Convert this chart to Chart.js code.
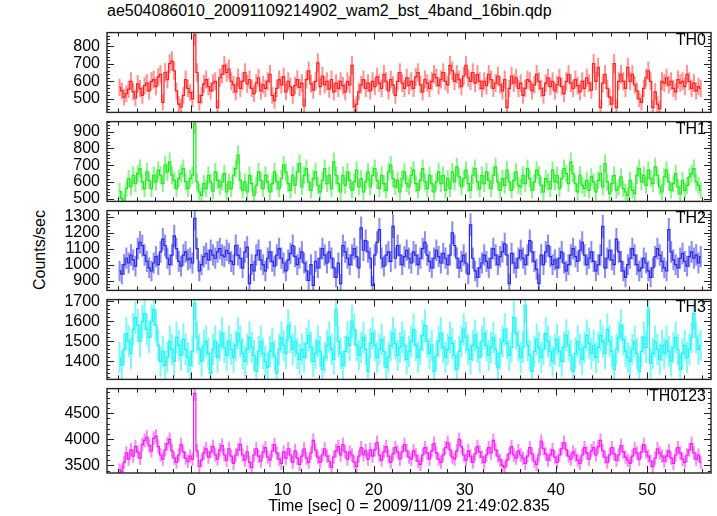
<!DOCTYPE html>
<html>
<head>
<meta charset="utf-8">
<script src="https://cdn.jsdelivr.net/npm/chart.js@4.4.1/dist/chart.umd.min.js"></script>
<style>
body{margin:0;background:#fff;}
#wrap{position:relative;width:717px;height:516px;overflow:hidden;background:#fff;font-family:"Liberation Sans",Arial,sans-serif;color:#000;}
#wrap canvas{position:absolute;left:0;}
.title{position:absolute;left:107px;top:2px;font-size:16px;line-height:18px;white-space:nowrap;}
.ylab{position:absolute;left:40px;top:250px;display:inline-block;font-size:16px;line-height:18px;white-space:nowrap;transform:translate(-50%,-50%) rotate(-90deg);}
.plab{position:absolute;right:11px;font-size:16px;line-height:18px;}
</style>
</head>
<body>
<div id="wrap">
  <div class="title">ae504086010_20091109214902_wam2_bst_4band_16bin.qdp</div>
  <div class="ylab">Counts/sec</div>
</div>
<script>
// light curves, 0.25 s bins starting at t=-8 s (counts/sec)
const binStart = -7.875, binWidth = 0.25;

const th0 = [
  565,545,510,530,555,600,540,505,585,560,520,575,590,545,600,610,
  570,625,640,480,650,610,700,715,660,545,470,455,520,610,560,535,
  500,865,650,480,520,585,610,570,545,590,600,450,620,640,690,650,
  670,600,580,540,620,560,600,650,585,610,560,530,590,620,545,580,
  560,600,640,520,490,560,610,580,625,540,600,570,520,575,610,565,
  590,460,610,660,585,550,600,705,570,630,580,600,555,610,540,590,
  560,600,575,540,600,580,690,455,470,540,580,610,560,590,545,600,
  570,625,590,560,640,600,545,610,580,520,600,650,590,560,620,575,
  600,560,625,650,580,540,610,590,560,600,640,620,575,610,650,600,
  580,690,660,600,640,610,570,630,690,620,600,650,590,640,600,560,
  600,575,640,610,560,590,630,580,545,610,450,560,630,590,620,560,
  590,520,560,610,600,545,580,640,600,560,520,590,620,570,600,545,
  580,620,570,530,600,640,590,560,610,575,540,600,560,620,590,550,
  700,600,680,450,590,640,560,510,470,700,450,600,640,600,560,680,
  600,640,580,545,500,480,560,620,660,600,450,540,470,445,600,590,
  620,580,600,560,540,610,590,600,570,640,600,560,590,545,570,560
];
const th1 = [
  545,500,480,560,620,570,640,590,650,680,600,560,660,610,560,640,
  600,670,640,590,700,660,720,640,610,560,620,650,680,600,560,620,
  640,950,600,540,520,590,560,640,600,545,660,610,570,600,650,540,
  600,560,640,680,760,610,550,600,540,640,590,520,580,660,610,560,
  640,600,540,590,660,600,560,620,700,660,590,550,640,580,660,710,
  570,640,680,600,550,620,660,580,540,610,680,590,640,560,720,640,
  590,540,640,580,660,610,550,600,670,570,620,540,600,660,570,640,
  680,610,560,640,590,550,660,700,620,570,610,540,620,660,590,570,
  640,670,590,550,610,680,600,560,640,590,540,600,660,590,640,550,
  620,560,660,600,690,630,570,620,670,590,550,640,680,600,560,640,
  590,660,610,560,640,690,600,550,620,580,670,600,550,610,660,580,
  570,640,590,680,620,550,600,670,640,580,540,620,600,560,670,600,
  640,560,620,680,650,590,720,650,590,540,640,580,560,610,550,630,
  600,540,610,650,570,710,600,530,590,640,550,570,630,560,540,520,
  610,550,530,640,680,600,640,580,670,620,590,690,640,570,540,630,
  670,600,550,590,650,570,530,610,550,580,630,650,680,600,580,550
];
const th2 = [
  960,940,1000,1040,1010,1060,1030,990,1100,1140,1120,1060,1020,980,960,1010,
  1050,1000,1080,1160,1120,1040,1000,1060,1180,1100,1020,990,1060,1080,1030,1040,
  1010,1290,1100,960,1000,1050,1070,1030,1090,1060,1040,1080,1100,1060,1050,1090,
  1070,1020,1000,1120,1060,1040,980,1080,1110,880,1000,960,1060,1090,1030,1000,
  960,1040,1080,1020,990,1060,1100,1040,1010,960,1030,1070,1120,1050,1000,1040,
  1080,1010,960,900,1000,870,1020,980,1040,1100,1060,1010,1080,1040,980,920,
  1010,880,1120,1080,1040,1000,1060,1100,1050,980,1230,1090,1150,1080,1040,870,
  1060,1140,1220,1040,990,1060,1080,1020,1240,1040,1120,1060,1000,1050,1090,1040,
  1010,1080,1060,1000,1040,1100,1140,1060,1020,980,1040,1090,1050,1010,1070,1040,
  1000,1060,1200,1120,1040,980,1020,1060,1010,940,1250,1040,960,920,980,1010,
  1060,1020,980,1040,1100,1060,1000,1050,1080,1130,1060,880,1070,1010,980,1040,
  1090,1040,1000,1060,1150,1080,1020,970,880,1060,1000,1080,1120,1050,1000,1030,
  980,1040,1080,1010,960,1000,1060,1100,1050,1020,1090,1140,1060,1000,1040,1080,
  1020,960,1000,1060,1240,980,1040,1090,1030,1000,1160,1080,1020,960,920,1000,
  1040,1100,1060,1000,960,980,1040,1010,960,920,980,1050,1100,1060,1020,980,
  960,1220,1080,1030,1000,980,1040,1070,1020,990,1050,1080,1040,1060,1010,1050
];
const th3 = [
  1420,1380,1460,1540,1500,1440,1560,1620,1580,1500,1600,1640,1560,1520,1600,1660,
  1580,1480,1400,1450,1380,1420,1500,1460,1400,1520,1480,1430,1510,1460,1420,1380,
  1450,1690,1520,1460,1400,1480,1500,1440,1340,1460,1500,1420,1480,1540,1470,1430,
  1500,1460,1420,1480,1540,1500,1440,1400,1460,1520,1470,1430,1350,1450,1500,1440,
  1400,1370,1450,1490,1430,1340,1460,1520,1480,1440,1580,1520,1460,1500,1440,1410,
  1460,1420,1490,1530,1470,1400,1440,1500,1450,1360,1420,1480,1520,1460,1410,1660,
  1500,1440,1380,1450,1520,1480,1600,1560,1480,1430,1470,1520,1460,1350,1490,1540,
  1480,1420,1460,1510,1450,1370,1420,1480,1540,1490,1430,1470,1520,1480,1410,1450,
  1500,1560,1480,1420,1460,1530,1580,1500,1440,1480,1350,1430,1500,1540,1470,1420,
  1460,1520,1490,1430,1360,1450,1500,1560,1520,1460,1410,1480,1530,1470,1420,1500,
  1540,1480,1430,1470,1520,1460,1370,1440,1500,1560,1490,1430,1470,1620,1540,1480,
  1420,1470,1680,1480,1430,1350,1450,1510,1470,1420,1460,1540,1500,1450,1400,1460,
  1510,1450,1400,1470,1530,1480,1430,1350,1440,1500,1460,1410,1470,1530,1490,1440,
  1480,1420,1470,1530,1500,1440,1560,1500,1450,1360,1460,1520,1580,1510,1450,1420,
  1400,1460,1500,1440,1350,1450,1520,1470,1660,1390,1440,1500,1460,1410,1480,1440,
  1500,1450,1400,1470,1520,1460,1360,1440,1480,1420,1460,1520,1640,1520,1460,1480
];
const th0123 = [
  3420,3380,3560,3740,3620,3800,3680,3860,3760,3640,3900,3980,4040,3880,3780,4020,
  4060,3860,3700,3620,3800,3920,4000,3780,3640,3560,3700,3900,3760,3640,3580,3680,
  3620,4880,3780,3480,3600,3740,3820,3660,3760,3860,3700,3620,3800,3880,3700,3600,
  3820,3680,3540,3700,3800,3900,3700,3600,3760,3560,3460,3700,3820,3680,3580,3760,
  3840,3660,3600,3780,3900,3740,3620,3540,3760,3640,3820,3700,3560,3780,3640,3520,
  3680,3820,3640,3560,3740,3980,3800,3660,3560,3700,3820,3680,3580,3460,3660,3780,
  3860,3700,3900,3760,3620,3760,3700,3560,3480,3680,3840,3700,3780,3620,3800,3680,
  3800,3940,3700,3600,3760,3860,3680,3560,3720,3840,3760,3620,3760,3900,3780,3660,
  3620,3780,3700,3580,3520,3700,3840,3740,3620,3780,3920,3740,3620,3560,3700,3840,
  3940,3800,3660,3620,3780,4000,3860,3700,3600,3780,3680,3560,3720,3860,3760,3660,
  3560,3700,3840,3740,3980,3800,3680,3600,3500,3460,3600,3720,3860,3700,3640,3780,
  3700,3640,3540,3680,3840,3720,3580,3520,3700,3960,3820,3720,3600,3700,3800,3660,
  3560,3700,3820,3940,3800,3680,3620,3760,3700,3600,3540,3700,3840,3740,3620,3780,
  3840,3700,3860,3980,3780,3660,3560,3700,3840,3720,3600,3700,3880,3760,3660,3600,
  3540,3680,3820,3740,3620,3760,3900,3760,3680,3580,3480,3640,3820,3740,3680,3580,
  3680,3780,3640,3540,3700,3840,3740,3620,3560,3700,3800,3920,3740,3620,3700,3560
];

const bandNames = ['TH0','TH1','TH2','TH3','TH0123'];
const yLimits = [[423,877],[484,960],[838,1339],[1310,1709],[3355,4973]];
const yTicks = [[500,600,700,800],[500,600,700,800,900],[900,1000,1100,1200,1300],[1400,1500,1600,1700],[3500,4000,4500]];
const yMinor = [20,20,20,20,100];
const xLimits = [-9.25, 57];
const xTicks = [0,10,20,30,40,50];

const series = [th0, th1, th2, th3, th0123];
const lineColors = ['#ff2020','#22e822','#2a2ae8','#22f4f4','#f41ef4'];
const errColors = ['rgba(255,60,60,0.55)','rgba(40,235,40,0.55)','rgba(50,50,230,0.55)','rgba(40,245,245,0.6)','rgba(245,40,245,0.55)'];

const times = th0.map((_,i)=>binStart + i*binWidth);
const tickFont = {family:'"Liberation Sans", Arial, sans-serif', size:16};

// border + inward ticks on all four sides, qdp style
const frameTicks = {
  id:'frameTicks',
  afterDraw(chart, args, opts){
    const {ctx, chartArea:a} = chart;
    const xs = chart.scales.x, ys = chart.scales.y;
    ctx.save();
    ctx.strokeStyle = '#222';
    ctx.lineWidth = 1;
    ctx.beginPath();
    for(let t=Math.ceil(xs.min/2)*2; t<=xs.max; t+=2){
      const px = Math.round(xs.getPixelForValue(t))+0.5;
      const len = t%10===0 ? 7 : 4;
      ctx.moveTo(px,a.top); ctx.lineTo(px,a.top+len);
      ctx.moveTo(px,a.bottom); ctx.lineTo(px,a.bottom-len);
    }
    for(let v=Math.ceil(ys.min/opts.minor)*opts.minor; v<=ys.max; v+=opts.minor){
      const py = Math.round(ys.getPixelForValue(v))+0.5;
      const len = opts.major.includes(v) ? 7 : 3;
      ctx.moveTo(a.left,py); ctx.lineTo(a.left+len,py);
      ctx.moveTo(a.right,py); ctx.lineTo(a.right-len,py);
    }
    ctx.stroke();
    ctx.lineWidth = 1.4;
    ctx.strokeRect(a.left, a.top, a.width, a.height);
    ctx.restore();
  }
};

const wrap = document.getElementById('wrap');
const panelTops = [28,117,206,295,384];
const panelH = 89, pad = 12;

series.forEach((vals, k)=>{
  const bottom = k===series.length-1;
  const cTop = panelTops[k]-pad;
  const cH = bottom ? 516-cTop : panelH+2*pad;
  const cv = document.createElement('canvas');
  cv.width = 717; cv.height = cH;
  cv.style.top = cTop+'px'; cv.style.width='717px'; cv.style.height=cH+'px';
  wrap.appendChild(cv);

  const lab = document.createElement('div');
  lab.className='plab'; lab.style.top=(panelTops[k]+3)+'px'; lab.innerText = bandNames[k];
  wrap.appendChild(lab);

  const steps = vals.map((v,i)=>({x:times[i], y:v}));
  // poisson error for a 0.25 s bin
  const errs = vals.map((v,i)=>{ const e = Math.sqrt(v*binWidth)/binWidth; return {x:times[i], y:[v-e, v+e]}; });

  new Chart(cv.getContext('2d'), {
    type:'line',
    data:{datasets:[
      {type:'line', data:steps, stepped:'middle', borderColor:lineColors[k], borderWidth:1.2, pointRadius:0, fill:false, order:0},
      {type:'bar', data:errs, backgroundColor:errColors[k], borderWidth:0, barThickness:1.4, grouped:false, order:1}
    ]},
    options:{
      responsive:false, animation:false, devicePixelRatio:1,
      layout:{padding:{left:0,right:6,top:pad,bottom: bottom?0:pad}},
      plugins:{legend:{display:false}, tooltip:{enabled:false}, frameTicks:{major:yTicks[k], minor:yMinor[k]}},
      scales:{
        x:{type:'linear', min:xLimits[0], max:xLimits[1], offset:false, display:bottom,
           grid:{display:false, drawTicks:false}, border:{display:false},
           ticks:{autoSkip:false, maxRotation:0, padding:8, color:'#000', font:tickFont, callback:v=>String(v)},
           afterBuildTicks:s=>{ s.ticks = xTicks.map(v=>({value:v})); },
           title:{display:bottom, text:'Time [sec] 0 = 2009/11/09 21:49:02.835', color:'#000', padding:{top:0,bottom:0}, font:tickFont},
           afterFit:s=>{ if(bottom) s.height = 43; }},
        y:{type:'linear', min:yLimits[k][0], max:yLimits[k][1], beginAtZero:false,
           grid:{display:false, drawTicks:false}, border:{display:false},
           ticks:{autoSkip:false, padding:7, color:'#000', font:tickFont, callback:v=>String(v)},
           afterBuildTicks:s=>{ s.ticks = yTicks[k].map(v=>({value:v})); },
           afterFit:s=>{ s.width = 107; }}
      }
    },
    plugins:[frameTicks]
  });
});
</script>
</body>
</html>
